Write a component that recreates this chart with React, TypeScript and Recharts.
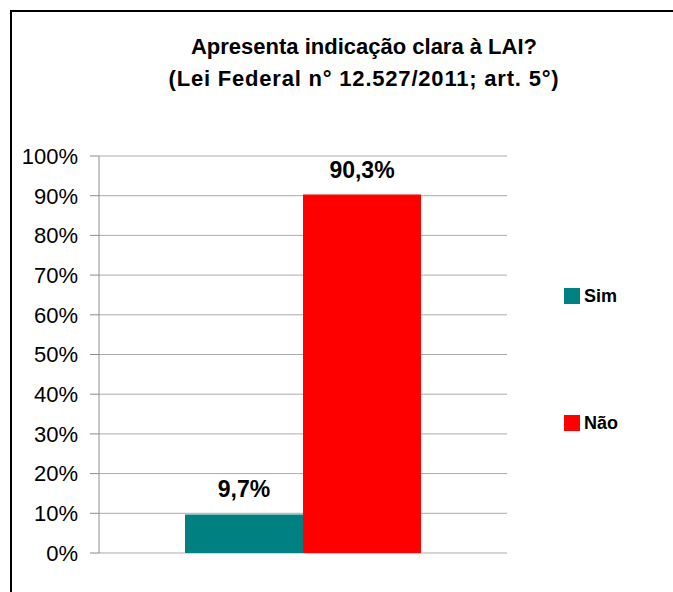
import { BarChart, Bar, XAxis, YAxis, CartesianGrid, Legend, LabelList } from "recharts";

const seriesNames = ["Sim", "Não"];
const seriesValues = [9.7, 90.3];
const seriesColors = ["#008080", "#FF0000"];
const yTicks = [0, 10, 20, 30, 40, 50, 60, 70, 80, 90, 100];
const titleLines = ["Apresenta indicação clara à LAI?", "(Lei Federal n° 12.527/2011; art. 5°)"];

const data = [
  seriesNames.reduce(
    (row, name, i) => ({ ...row, [name]: seriesValues[i] }),
    { name: "" } as Record<string, string | number>
  ),
];

const font = "'Liberation Sans', Arial, sans-serif";

const formatPct = (v: unknown) => `${String(v).replace(".", ",")}%`;

function LegendBox() {
  return (
    <div style={{ fontFamily: font }}>
      {seriesNames.map((name, i) => (
        <div
          key={name}
          style={{
            display: "flex",
            alignItems: "center",
            height: 16,
            marginBottom: i === 0 ? 111 : 0,
          }}
        >
          <span style={{ width: 16, height: 16, background: seriesColors[i], display: "inline-block" }} />
          <span style={{ marginLeft: 4, fontSize: 18, fontWeight: "bold", color: "#000", lineHeight: "16px" }}>
            {name}
          </span>
        </div>
      ))}
    </div>
  );
}

export default function App() {
  return (
    <div
      style={{
        position: "fixed",
        left: 10,
        top: 10,
        width: 700,
        height: 620,
        borderTop: "2px solid #000",
        borderLeft: "2px solid #000",
        background: "#fff",
        fontFamily: font,
      }}
    >
      <div
        style={{
          position: "absolute",
          left: 0,
          top: 19,
          width: 704,
          textAlign: "center",
          fontWeight: "bold",
          fontSize: 22,
          lineHeight: "32px",
          color: "#000",
        }}
      >
        <div>{titleLines[0]}</div>
        <div style={{ letterSpacing: 0.8 }}>{titleLines[1]}</div>
      </div>
      <BarChart
        width={660}
        height={588}
        data={data}
        margin={{ top: 144, right: 165, bottom: 47, left: 0 }}
        barCategoryGap={86}
        barGap={0}
      >
        <CartesianGrid vertical={false} stroke="#ababab" strokeWidth={1} />
        <XAxis dataKey="name" hide />
        <YAxis
          width={87}
          domain={[0, 100]}
          ticks={yTicks}
          interval={0}
          tickFormatter={(v) => `${v}%`}
          tickSize={9}
          tickMargin={12}
          axisLine={{ stroke: "#8c8c8c" }}
          tickLine={{ stroke: "#8c8c8c" }}
          tick={{ fill: "#000", fontSize: 22, fontFamily: font }}
        />
        <Legend
          layout="vertical"
          align="center"
          verticalAlign="middle"
          wrapperStyle={{ left: 552, top: 276, width: 100 }}
          content={() => <LegendBox />}
        />
        {seriesNames.map((name, i) => (
          <Bar key={name} dataKey={name} fill={seriesColors[i]} isAnimationActive={false}>
            <LabelList
              dataKey={name}
              position="top"
              offset={17}
              formatter={formatPct}
              fill="#000"
              fontSize={23}
              fontWeight="bold"
              fontFamily={font}
            />
          </Bar>
        ))}
      </BarChart>
    </div>
  );
}
